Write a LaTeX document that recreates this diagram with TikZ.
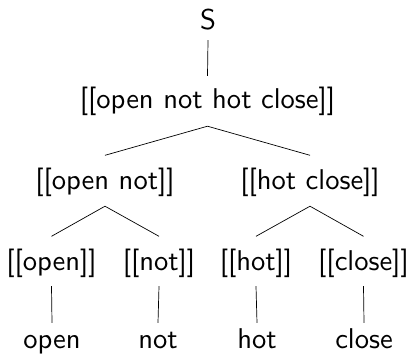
\documentclass[tikz,border=0pt]{standalone}
\usepackage{fontspec}
% the 10pt design of Latin Modern Sans, scaled up
\setsansfont{lmsans10-regular.otf}
\begin{document}
\begin{tikzpicture}[x=1pt,y=-1pt,
  lbl/.style={anchor=base,inner sep=0pt,text height=21.45pt,text depth=7.15pt,
    font=\fontsize{28.6}{34}\sffamily},
  branch/.style={line width=0.7pt,black}]
\useasboundingbox (0,0) rectangle (412,354);
% tree labels, placed by baseline
\node[lbl] (S)   at (208,29)   {S};
\node[lbl] (all) at (207.5,108) {[[open not hot close]]};
\node[lbl] (on)  at (105,189)  {[[open not]]};
\node[lbl] (hc)  at (310,189)  {[[hot close]]};
\node[lbl] (o)   at (51.5,270) {[[open]]};
\node[lbl] (n)   at (159,270)  {[[not]]};
\node[lbl] (h)   at (256,270)  {[[hot]]};
\node[lbl] (c)   at (363.5,270) {[[close]]};
\node[lbl] (wo)  at (52,348)   {open};
\node[lbl] (wn)  at (158,348)  {not};
\node[lbl] (wh)  at (257,348)  {hot};
\node[lbl] (wc)  at (364,348)  {close};
% branches
\draw[branch] ([yshift=-3.85pt]S.south) -- ([yshift=10.55pt]all.north);
\draw[branch] ([yshift=-10.85pt]all.south) -- ([yshift=12.05pt]on.north);
\draw[branch] ([yshift=-10.85pt]all.south) -- ([yshift=12.05pt]hc.north);
\draw[branch] ([yshift=-9.85pt]on.south) -- ([yshift=12.05pt]o.north);
\draw[branch] ([yshift=-9.85pt]on.south) -- ([yshift=12.05pt]n.north);
\draw[branch] ([yshift=-9.85pt]hc.south) -- ([yshift=12.05pt]h.north);
\draw[branch] ([yshift=-9.85pt]hc.south) -- ([yshift=12.05pt]c.north);
\draw[branch] ([yshift=-8.85pt]o.south) -- ([yshift=3.55pt]wo.north);
\draw[branch] ([yshift=-8.85pt]n.south) -- ([yshift=3.55pt]wn.north);
\draw[branch] ([yshift=-8.85pt]h.south) -- ([yshift=3.55pt]wh.north);
\draw[branch] ([yshift=-8.85pt]c.south) -- ([yshift=3.55pt]wc.north);
\end{tikzpicture}
\end{document}
